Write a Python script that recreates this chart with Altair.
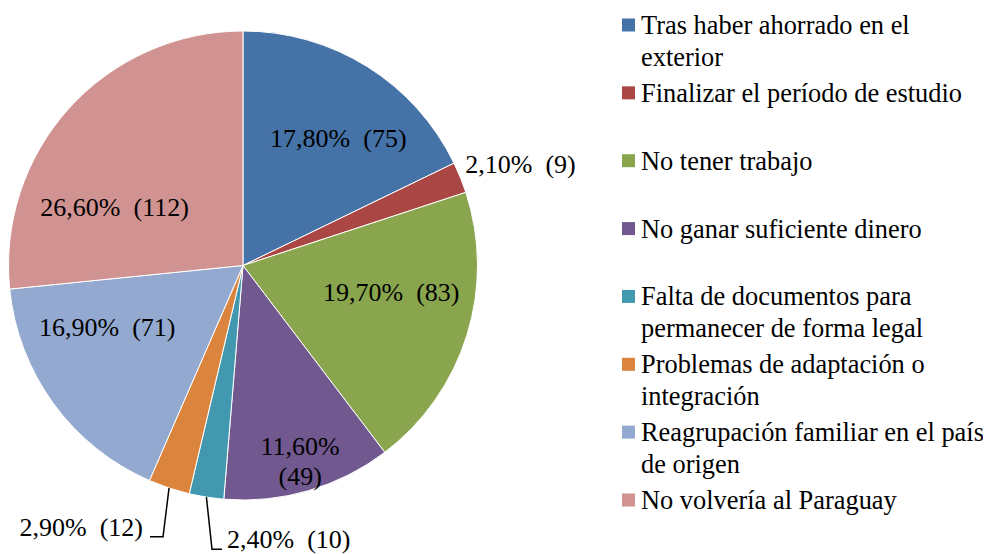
import math
import altair as alt
import pandas as pd

# ---------------- data ----------------
categories = [
    "Tras haber ahorrado en el exterior",
    "Finalizar el período de estudio",
    "No tener trabajo",
    "No ganar suficiente dinero",
    "Falta de documentos para permanecer de forma legal",
    "Problemas de adaptación o integración",
    "Reagrupación familiar en el país de origen",
    "No volvería al Paraguay",
]
legend_text = [
    "Tras haber ahorrado en el\nexterior",
    "Finalizar el período de estudio",
    "No tener trabajo",
    "No ganar suficiente dinero",
    "Falta de documentos para\npermanecer de forma legal",
    "Problemas de adaptación o\nintegración",
    "Reagrupación familiar en el país\nde origen",
    "No volvería al Paraguay",
]
counts = [75, 9, 83, 49, 10, 12, 71, 112]
percents = [17.8, 2.1, 19.7, 11.6, 2.4, 2.9, 16.9, 26.6]
colors = ["#4572A7", "#AA4643", "#89A54E", "#71588F",
          "#4198AF", "#DB843D", "#93A9CF", "#D19392"]

# ---------------- layout / style ----------------
FONT = "Liberation Serif"
FS = 26
FS_LEG = 26.4
W, H = 967, 538
CX, CY, R = 235, 257.5, 234.5
TOTAL = sum(counts)
NBSP2 = "\u00a0\u00a0"


def fmt(p, n, sep=NBSP2):
    return f"{p:.2f}".replace(".", ",") + "%" + sep + f"({n})"


cum = 0
mids = []
for n in counts:
    mids.append(cum + n / 2)
    cum += n

labels = [fmt(p, n) for p, n in zip(percents, counts)]
labels[3] = fmt(percents[3], counts[3], "\n")

df = pd.DataFrame({
    "cat": categories,
    "legend": legend_text,
    "n": counts,
    "order": list(range(len(counts))),
    "mid": mids,
    "label": labels,
})

color_scale = alt.Scale(domain=categories, range=colors)
theta_scale = alt.Scale(domain=[0, TOTAL], range=[0, 2 * math.pi])
base = alt.Chart(df)

pie = base.mark_arc(radius=R, stroke="white", strokeWidth=1).encode(
    theta=alt.Theta("n:Q", stack=True, scale=theta_scale),
    color=alt.Color("cat:N", scale=color_scale, legend=None),
    order=alt.Order("order:Q", sort="ascending"),
    x=alt.value(CX),
    y=alt.value(CY),
)


def slice_label(i, radius, dx=0, dy=0):
    return base.transform_filter(alt.datum.order == i).mark_text(
        font=FONT, fontSize=FS, color="black", baseline="middle",
        align="center", dx=dx, dy=dy, lineBreak="\n", lineHeight=30,
    ).encode(
        theta=alt.Theta("mid:Q", stack=False, scale=theta_scale),
        radius=alt.value(radius),
        x=alt.value(CX),
        y=alt.value(CY),
        text="label:N",
    )


label_layers = [
    slice_label(0, 157, 12, 7),
    slice_label(1, 295, 4, 10),
    slice_label(2, 150, 5, -17),
    slice_label(3, 190, 4, -1),
    slice_label(6, 147, -17, -24),
    slice_label(7, 134, -29, 32),
]

# leader lines for the two small slices, derived from slice geometry
leader_rows = []
outside_rows = []
for i, (ex, ey, hx) in {5: (-6, 48.7, -13), 4: (5.6, 52, 10)}.items():
    ang = mids[i] / TOTAL * 2 * math.pi
    sx = CX + R * math.sin(ang)
    sy = CY - R * math.cos(ang)
    px = [sx, sx + ex, sx + ex + hx]
    py = [sy, sy + ey, sy + ey]
    for k in range(3):
        leader_rows.append({"grp": i, "seq": k, "px": px[k], "py": py[k]})
    outside_rows.append({
        "grp": i,
        "px": px[2] + (5 if hx > 0 else -7),
        "py": py[2] - 1,
        "label": labels[i],
        "align": "left" if hx > 0 else "right",
    })

leader_df = pd.DataFrame(leader_rows)
outside_df = pd.DataFrame(outside_rows)

leaders = alt.Chart(leader_df).mark_line(color="black", strokeWidth=1.5).encode(
    x=alt.X("px:Q", scale=None),
    y=alt.Y("py:Q", scale=None),
    detail="grp:N",
    order="seq:Q",
)

out_left = alt.Chart(outside_df).transform_filter(alt.datum.align == "right").mark_text(
    font=FONT, fontSize=FS, color="black", align="right", baseline="alphabetic"
).encode(x=alt.X("px:Q", scale=None), y=alt.Y("py:Q", scale=None), text="label:N")

out_right = alt.Chart(outside_df).transform_filter(alt.datum.align == "left").mark_text(
    font=FONT, fontSize=FS, color="black", align="left", baseline="alphabetic"
).encode(x=alt.X("px:Q", scale=None), y=alt.Y("py:Q", scale=None), text="label:N")

# custom legend
leg_y = alt.Y("order:Q", scale=alt.Scale(domain=[0, 7], range=[17, 492]), axis=None)
leg_sq = base.mark_square(size=169, opacity=1).encode(
    x=alt.value(620.5),
    y=leg_y,
    color=alt.Color("cat:N", scale=color_scale, legend=None),
)
leg_txt = base.mark_text(
    font=FONT, fontSize=FS_LEG, color="black", align="left", baseline="top",
    dy=-12, lineBreak="\n", lineHeight=31.5,
).encode(x=alt.value(633), y=leg_y, text="legend:N")

chart = alt.layer(
    pie, *label_layers, leaders, out_left, out_right, leg_sq, leg_txt
).resolve_scale(
    x="independent", y="independent"
).properties(
    width=W, height=H,
    padding={"left": 0, "top": 0, "right": 8, "bottom": 8},
    autosize=alt.AutoSizeParams(type="none"),
).configure_view(stroke=None)

chart.save("out.html", embed_options={"renderer": "svg", "actions": False})
